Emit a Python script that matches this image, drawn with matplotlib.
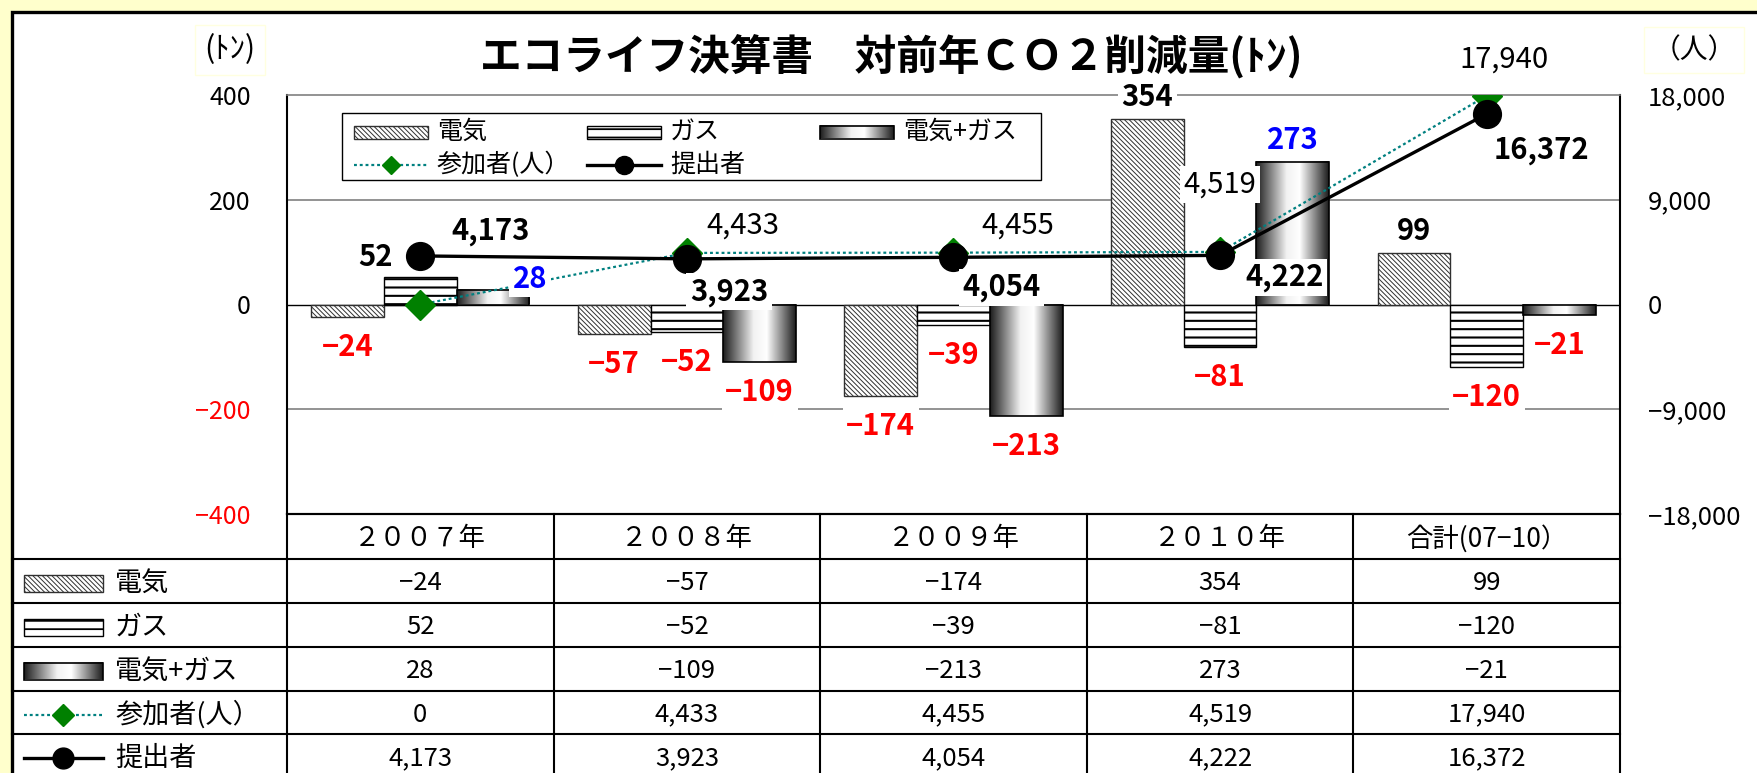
#!/usr/bin/env python
# coding: utf-8

import numpy as np
import matplotlib
matplotlib.use('Agg')
from matplotlib import pyplot as plt
from matplotlib.colors import LinearSegmentedColormap
from matplotlib.patches import Rectangle

plt.rcParams['font.family'] = ['Noto Sans CJK JP', 'DejaVu Sans']

#--- data ---#
categories = ['２００７年', '２００８年', '２００９年', '２０１０年', '合計(07−10）']
denki = [-24, -57, -174, 354, 99]
gas = [52, -52, -39, -81, -120]
denkiGas = [28, -109, -213, 273, -21]
sankasha = [0, 4433, 4455, 4519, 17940]
teishutsu = [4173, 3923, 4054, 4222, 16372]
seriesNames = ['電気', 'ガス', '電気+ガス', '参加者(人）', '提出者']
leftTicks = [-400, -200, 0, 200, 400]
rightTicks = [-18000, -9000, 0, 9000, 18000]
title = 'エコライフ決算書　対前年ＣＯ２削減量(ﾄﾝ)'

#--- label nudges (pixels, right / down), None = default ---#
gasShift = [(-45, -20), None, None, None, None]
dgShift = [(37, -11), None, None, None, None]
sankaShift = [None, (56, -27), (64, -27), (0, -67), (17, -36)]
teishutsuShift = [(70, -25), (42, 33), (48, 30), (64, 22), (55, 36)]

#--- layout (pixels) ---#
W, H = 1758, 773
L, R, T, B = 287, 1620, 95, 514
rowLines = [559, 603, 647, 691, 734, 778]
border = 12

teal = '#008080'
green = '#008000'
dotted = (0, (1.3, 1.3))
labelBox = dict(boxstyle='square,pad=0.12', fc='white', ec='none')
cylCmap = LinearSegmentedColormap.from_list(
    'cyl', [(0, '#1c1c1c'), (0.42, '#f2f2f2'), (0.6, '#ffffff'), (1, '#1c1c1c')])
gradRow = np.linspace(0, 1, 256).reshape(1, -1)
hatches = ['\\' * 7, '--']


def fmt(v):
    return '{:,}'.format(v).replace('-', '−')


def hatchWidth(patches, lw):
    for p in patches:
        if hasattr(p, 'set_hatch_linewidth'):
            p.set_hatch_linewidth(lw)


fig = plt.figure(figsize=(W / 100, H / 100), dpi=100)
fig.patch.set_facecolor('#FFFFCC')
fig.patches.append(Rectangle((border / W, -0.1), 1.2, 1.1 - border / H,
                             transform=fig.transFigure, fc='white',
                             ec='black', lw=2.4, zorder=-5))

#--- main chart ---#
ax = fig.add_axes([L / W, 1 - B / H, (R - L) / W, (B - T) / H])
ax2 = ax.twinx()
x = np.arange(len(categories))
bw = 0.273

b1 = ax.bar(x - bw, denki, bw, color='white', edgecolor='#303030',
            hatch=hatches[0], lw=1.0, zorder=2)
hatchWidth(b1, 0.7)
b2 = ax.bar(x, gas, bw, color='white', edgecolor='black',
            hatch=hatches[1], lw=1.0, zorder=2)
hatchWidth(b2, 1.5)
b3 = ax.bar(x + bw, denkiGas, bw, color='none', edgecolor='black',
            lw=1.2, zorder=3)
for b in b3:
    x0, y0, h = b.get_x(), b.get_y(), b.get_height()
    ax.imshow(gradRow, cmap=cylCmap, extent=[x0, x0 + bw, y0, y0 + h],
              aspect='auto', interpolation='bilinear', zorder=2)

for v in [200, -200]:
    ax.axhline(v, color='#808080', lw=1.2, zorder=1)
ax.axhline(0, color='black', lw=1.0, zorder=1)

ax.set_xlim(-0.5, len(categories) - 0.5)
ax.set_ylim(-400, 400)
ax.set_xticks([])
ax.set_yticks(leftTicks)
ax.set_yticklabels([fmt(v) for v in leftTicks])
for lab, v in zip(ax.get_yticklabels(), leftTicks):
    lab.set_color('red' if v < 0 else 'black')
ax.tick_params(axis='y', length=0, pad=26, labelsize=18)
ax.spines['top'].set_color('#808080')
ax.spines['top'].set_linewidth(1.2)
ax.spines['left'].set_linewidth(1.5)
ax.spines['right'].set_linewidth(1.5)
ax.spines['bottom'].set_linewidth(1.5)

ax2.plot(x, sankasha, color=teal, ls=dotted, lw=1.6, marker='D', ms=15,
         mfc=green, mec=green, zorder=4)
ax2.plot(x, teishutsu, color='black', lw=2.4, marker='o', ms=20, zorder=5)
ax2.set_ylim(-18000, 18000)
ax2.set_yticks(rightTicks)
ax2.set_yticklabels([fmt(v) for v in rightTicks])
ax2.tick_params(axis='y', length=0, pad=20, labelsize=18.5)
for s in ax2.spines.values():
    s.set_visible(False)


def barLabel(xb, v, shift, color):
    if shift is None:
        shift = (0, -22) if v > 0 else (0, 30)
    ax2.annotate(fmt(v), xy=(xb, v), xycoords=ax.transData,
                 xytext=(shift[0], -shift[1]), textcoords='offset pixels',
                 ha='center', va='center', fontsize=21, fontweight='bold',
                 color=color, bbox=labelBox, zorder=6)


for i in range(len(categories)):
    barLabel(x[i] - bw, denki[i], None, 'black' if denki[i] > 0 else 'red')
    barLabel(x[i], gas[i], gasShift[i], 'black' if gas[i] > 0 else 'red')
    barLabel(x[i] + bw, denkiGas[i], dgShift[i], 'blue' if denkiGas[i] > 0 else 'red')
    if sankaShift[i] is not None:
        ax2.annotate(fmt(sankasha[i]), xy=(x[i], sankasha[i]),
                     xytext=(sankaShift[i][0], -sankaShift[i][1]),
                     textcoords='offset pixels', ha='center', va='center',
                     fontsize=21, bbox=labelBox, zorder=6)
    ax2.annotate(fmt(teishutsu[i]), xy=(x[i], teishutsu[i]),
                 xytext=(teishutsuShift[i][0], -teishutsuShift[i][1]),
                 textcoords='offset pixels', ha='center', va='center',
                 fontsize=21, fontweight='bold', bbox=labelBox, zorder=6)

#--- overlay in pixel space: title, units, legend, table ---#
ov = fig.add_axes([0, 0, 1, 1], zorder=10)
ov.set_xlim(0, W)
ov.set_ylim(H, 0)
ov.axis('off')

ov.text(891, 56, title, ha='center', va='center', fontsize=30,
        fontweight='bold')
unitBox = dict(boxstyle='square,pad=0.3', fc='white', ec='#FFFFE0', lw=1)
ov.text(230, 50, '(ﾄﾝ)', ha='center', va='center', fontsize=22, bbox=unitBox)
ov.text(1694, 50, '（人）', ha='center', va='center', fontsize=20, bbox=unitBox)


def sample(kind, x0, x1, yc, h, ms):
    if kind == 2:
        ov.imshow(gradRow, cmap=cylCmap, extent=[x0, x1, yc + h / 2, yc - h / 2],
                  aspect='auto', interpolation='bilinear', zorder=11)
        ov.add_patch(Rectangle((x0, yc - h / 2), x1 - x0, h, fc='none',
                               ec='black', lw=1.2, zorder=12))
    elif kind < 2:
        p = Rectangle((x0, yc - h / 2), x1 - x0, h, fc='white',
                      ec='#303030' if kind == 0 else 'black',
                      hatch=hatches[kind], lw=1.0, zorder=12)
        ov.add_patch(p)
        hatchWidth([p], 0.7 if kind == 0 else 1.3)
    elif kind == 3:
        ov.plot([x0, x1], [yc, yc], color=teal, ls=dotted, lw=1.6, zorder=12)
        ov.plot([(x0 + x1) / 2], [yc], marker='D', ms=ms * 0.72, color=green,
                zorder=13)
    else:
        ov.plot([x0, x1], [yc, yc], color='black', lw=2.4, zorder=12)
        ov.plot([(x0 + x1) / 2], [yc], marker='o', ms=ms, color='black',
                zorder=13)


# legend box
ov.add_patch(Rectangle((342, 113), 699, 67, fc='white', ec='black', lw=1.0,
                       zorder=10))
legendSlots = [(354, 132), (587, 132), (820, 132), (354, 165), (587, 165)]
for k, (lx, ly) in enumerate(legendSlots):
    sample(k, lx, lx + 74, ly, 13, 13)
    ov.text(lx + 83, ly, seriesNames[k], ha='left', va='center', fontsize=18,
            zorder=13)

# table grid
colW = (R - L) / len(categories)
ov.plot([L, R], [B, B], color='black', lw=1.5, zorder=11)
for y in rowLines[:-1]:
    ov.plot([border, R], [y, y], color='black', lw=1.5, zorder=11)
for k in range(len(categories) + 1):
    ov.plot([L + k * colW] * 2, [B, H], color='black', lw=1.5, zorder=11)

headY = (B + rowLines[0]) / 2 + 2
for i, c in enumerate(categories):
    ov.text(L + (i + 0.5) * colW, headY, c, ha='center', va='center',
            fontsize=19, zorder=12)

tableRows = [denki, gas, denkiGas, sankasha, teishutsu]
for r, vals in enumerate(tableRows):
    yc = (rowLines[r] + rowLines[r + 1]) / 2 + 2
    sample(r, 24, 103, yc, 17, 15)
    ov.text(115, yc, seriesNames[r], ha='left', va='center', fontsize=19.5,
            zorder=12)
    for i, v in enumerate(vals):
        ov.text(L + (i + 0.5) * colW, yc, fmt(v), ha='center', va='center',
                fontsize=18.5, zorder=12)

ov.set_xlim(0, W)
ov.set_ylim(H, 0)

fig.savefig('out.png', dpi=100, facecolor=fig.get_facecolor())
